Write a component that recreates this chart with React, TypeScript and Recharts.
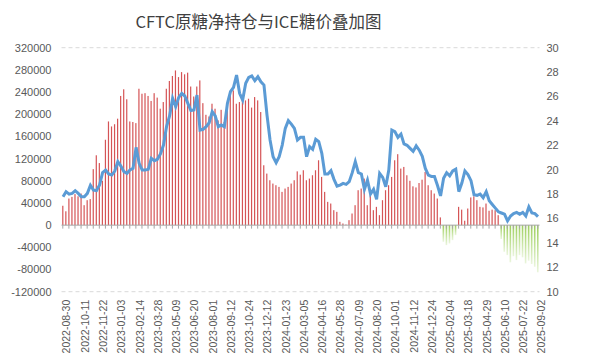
import React from 'react';
import { ComposedChart, Bar, Line, XAxis, YAxis, CartesianGrid, ReferenceLine } from 'recharts';

// weekly report dates (one week missing in Nov 2023)
const firstWeek = '2022-08-30';
const missingWeeks = ['2023-11-07'];

const tickLabels = [
  '2022-08-30', '2022-10-11', '2022-11-22', '2023-01-03', '2023-02-14', '2023-03-28',
  '2023-05-09', '2023-06-20', '2023-08-01', '2023-09-12', '2023-10-24', '2023-12-12',
  '2024-01-23', '2024-03-05', '2024-04-16', '2024-05-28', '2024-07-09', '2024-08-20',
  '2024-10-01', '2024-11-12', '2024-12-24', '2025-02-04', '2025-03-18', '2025-04-29',
  '2025-06-10', '2025-07-22', '2025-09-02',
];

// CFTC raw sugar net position (contracts)
const netPosition = [
  35000, 25000, 48000, 51000, 56000, 52000, 57000, 36000, 45000, 47000, 101000, 126000, 112000,
  80000,
  154000, 187000, 178000, 182000, 192000, 233000, 245000, 227000, 187000, 186000, 184000, 246000,
  237000, 238000, 233000, 224000, 238000, 230000, 210000, 222000, 246000, 260000, 269000,
  279000, 267000, 276000, 272000, 275000, 250000, 232000, 250000, 261000, 220000, 199000, 196000,
  219000, 210000, 189000, 208000, 186000, 207000, 234000, 243000, 219000, 222000, 226000, 225000,
  228000, 212000, 231000, 225000, 204000, 108000, 93000, 81000, 75000, 72000, 69000, 60000,
  66000, 69000, 75000, 81000, 97000,
  91000, 99000, 81000, 84000, 90000, 99000, 117000, 87000, 60000, 42000, 39000, 27000, 24000,
  6000, 3000, 1000, 9000, 21000, 36000, 63000, 66000, 84000, 36000, 54000, 27000, 33000, 18000,
  45000, 63000, 72000, 87000, 117000, 128000, 102000, 105000,
  90000, 80000, 70000, 68000, 76000, 82000, 96000, 72000, 63000, 57000, 48000, 14000,
  -30000, -36000, -33000, -27000, -18000,
  33000, 28000, 8000, 30000, 50000, 52000, 45000, 33000, 32000, 39000, 26000, 28000, 27000, 18000,
  -25000, -48000, -54000, -67000, -56000, -63000, -54000, -58000, -69000, -64000, -70000, -75000, -85000,
];

// ICE raw sugar price (cents/lb)
const icePrice = [
  17.79, 18.2, 18.0, 18.06, 18.28, 18.06, 17.79, 17.79, 18.06, 18.72,
  18.33, 18.28, 18.74, 19.76, 19.97, 19.65, 19.56, 19.89, 20.66, 20.3,
  19.84, 19.7, 19.97, 20.11, 21.83, 20.52, 19.97, 19.97, 20.03, 20.93,
  20.74, 20.85, 21.29, 22.02, 23.53, 24.4, 25.85, 25.16, 25.93, 26.26,
  26.04, 25.44, 24.84, 24.89, 26.12, 23.25, 23.31, 23.53, 23.85, 24.76,
  24.4, 23.53, 23.66, 23.53, 25.44, 26.4, 26.75, 27.76, 26.26, 25.71,
  27.08, 27.57, 27.68, 27.3, 27.62, 27.21, 26.94, 24.48, 22.43, 21.07,
  20.57, 21.07, 22.02, 23.39, 24.02, 23.74, 23.39, 22.43,
  22.65, 22.65, 21.07, 21.89, 21.67, 22.49, 22.3, 21.34, 19.65, 19.65,
  19.92, 19.21, 18.66, 18.74, 18.88, 18.8, 19.02, 19.76, 20.66, 19.76,
  19.65, 18.39, 19.15, 18.01, 18.39, 17.57, 19.7, 19.37, 18.61, 19.97,
  23.25, 23.12, 22.65, 22.92, 22.11, 22.0, 21.75, 21.5, 21.95, 21.6, 21.1,
  20.1, 19.55, 19.45, 19.45, 18.7, 17.85, 19.3, 19.75, 19.5, 19.9,
  20.05, 18.2, 18.9, 19.9, 19.6, 19.1, 17.95, 17.9, 18.0, 17.7,
  18.2, 17.45, 17.15, 16.85, 16.55, 16.45, 16.35, 15.8, 16.2, 16.4,
  16.5, 16.35, 16.5, 16.2, 16.95, 16.45, 16.4, 16.15,
];

const leftTicks = [-120000, -80000, -40000, 0, 40000, 80000, 120000, 160000, 200000, 240000, 280000, 320000];
const rightTicks = [10, 12, 14, 16, 18, 20, 22, 24, 26, 28, 30];

const buildWeeks = (start: string, count: number, skip: string[]) => {
  const out: string[] = [];
  let t = Date.parse(start + 'T00:00:00Z');
  while (out.length < count) {
    const s = new Date(t).toISOString().slice(0, 10);
    if (!skip.includes(s)) out.push(s);
    t += 7 * 86400000;
  }
  return out;
};

const weeks = buildWeeks(firstWeek, netPosition.length, missingWeeks);
const data = weeks.map((date, i) => ({ date, net: netPosition[i], price: icePrice[i] }));

const NetBar = (props: any) => {
  const { x, y, width, height, payload, index } = props;
  if (x == null || y == null) return null;
  const top = Math.min(y, y + height);
  const h = Math.abs(height);
  const cx = x + width / 2;
  const positive = payload.net >= 0;
  const zeroY = positive ? top + h : top;
  const w = positive ? 1.2 : 1.6;
  return (
    <g>
      <rect x={cx - w / 2} y={top} width={w} height={h} fill={positive ? '#d55456' : 'url(#greenFade)'} />
      {index % 2 === 0 && <line x1={cx} x2={cx} y1={zeroY} y2={zeroY + 3.5} stroke="#a6a6a6" strokeWidth={1} />}
    </g>
  );
};

const axisFont = { fontSize: 11, fill: '#595959', fontFamily: 'Liberation Sans, Arial, sans-serif' };

const App: React.FC = () => {
  return (
    <div style={{ position: 'absolute', left: 0, top: 0, width: 599, height: 354, background: '#fff' }}>
      <div
        style={{
          position: 'absolute',
          left: 0,
          top: 9,
          width: 517,
          textAlign: 'center',
          fontSize: 16.5,
          lineHeight: '24px',
          color: '#404040',
          fontFamily: '"Noto Sans CJK SC", sans-serif',
        }}
      >
        CFTC原糖净持仓与ICE糖价叠加图
      </div>
      <ComposedChart width={599} height={354} data={data} margin={{ top: 47.7, right: 0, left: 0, bottom: 0 }}>
        <defs>
          <linearGradient id="greenFade" x1="0" y1="0" x2="0" y2="1">
            <stop offset="0%" stopColor="#9ccf5a" />
            <stop offset="100%" stopColor="#eaf5dc" />
          </linearGradient>
        </defs>
        <CartesianGrid vertical={false} stroke="#d9d9d9" strokeDasharray="4 3" />
        <XAxis
          dataKey="date"
          ticks={tickLabels}
          interval={0}
          height={62.3}
          angle={-90}
          textAnchor="end"
          tick={{ ...axisFont, fontSize: 10.5 }}
          tickLine={false}
          axisLine={false}
        />
        <YAxis
          yAxisId="left"
          width={61.5}
          domain={[-120000, 320000]}
          ticks={leftTicks}
          interval={0}
          tick={axisFont}
          tickLine={false}
          axisLine={false}
          tickMargin={4}
        />
        <YAxis
          yAxisId="right"
          orientation="right"
          width={59.5}
          domain={[10, 30]}
          ticks={rightTicks}
          interval={0}
          tick={axisFont}
          tickLine={false}
          axisLine={false}
          tickMargin={1}
        />
        <ReferenceLine yAxisId="left" y={0} stroke="#a6a6a6" />
        <Bar yAxisId="left" dataKey="net" shape={<NetBar />} isAnimationActive={false} />
        <Line
          yAxisId="right"
          type="linear"
          dataKey="price"
          stroke="#5b9bd5"
          strokeWidth={3}
          dot={false}
          activeDot={false}
          isAnimationActive={false}
        />
      </ComposedChart>
    </div>
  );
};

export default App;
